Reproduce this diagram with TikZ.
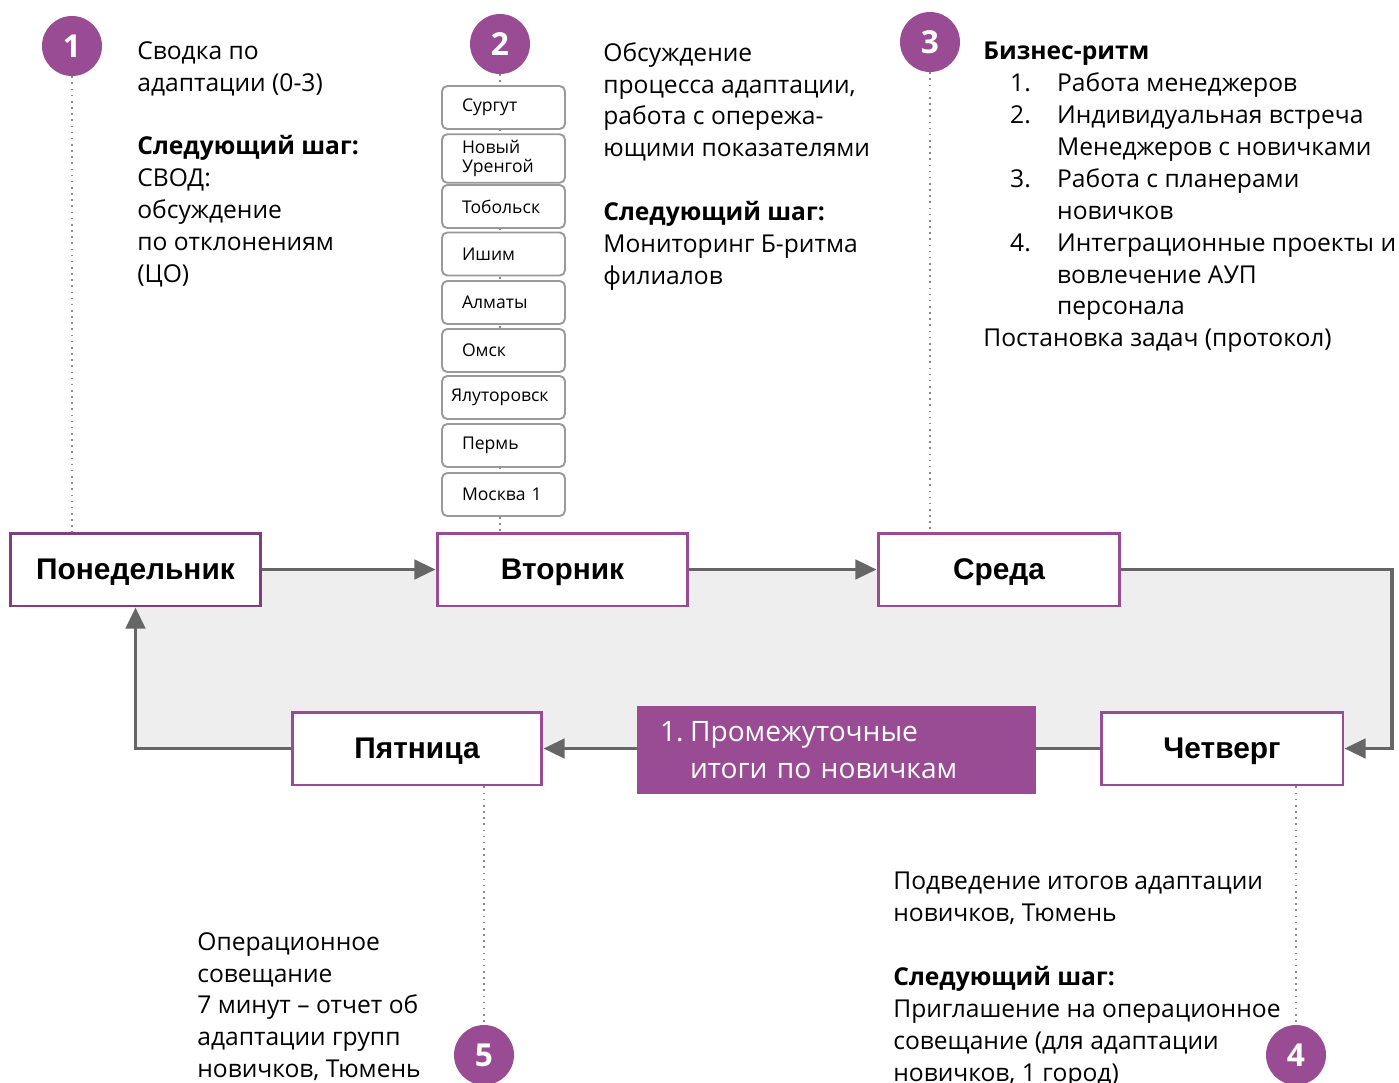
\documentclass[tikz,border=0pt]{standalone}
\usepackage{fontspec}
\setmainfont{Open Sans}
\newfontfamily\dayfont{Liberation Sans}
\usetikzlibrary{arrows.meta,positioning}

\definecolor{plum}{HTML}{994C93}
\definecolor{plumdark}{HTML}{7E3F7C}
\definecolor{flowgray}{HTML}{666666}
\definecolor{loopfill}{HTML}{EEEEEE}
\definecolor{citygray}{HTML}{9A9A9A}
\definecolor{guidegray}{HTML}{8A8A8A}

\tikzset{
  daybox/.style={draw=plum, line width=1.7pt, fill=white, minimum height=1.46cm,
    text depth=0pt, font=\dayfont\bfseries\fontsize{17}{20}\selectfont},
  citybox/.style={draw=citygray, line width=1.1pt, rounded corners=3pt, fill=white,
    minimum height=0.86cm, inner xsep=0.4cm, text width=1.66cm, align=left,
    font=\fontsize{10}{11}\selectfont},
  stepnum/.style={circle, fill=plum, minimum size=1.2cm, inner sep=0pt, text=white,
    font=\bfseries\fontsize{18}{20}\selectfont},
  note/.style={anchor=north west, inner sep=0pt, align=left,
    font=\fontsize{14}{18.14}\selectfont},
  flow/.style={draw=flowgray, line width=2pt, -{Triangle[length=12pt,width=11pt]}},
  guide/.style={draw=guidegray, line width=0.9pt, dash pattern=on 0.9pt off 2.6pt},
}

\begin{document}
\begin{tikzpicture}[x=0.02cm, y=-0.02cm]
  \useasboundingbox (0,0) rectangle (1399,1082);

  % area inside the loop
  \fill[loopfill] (135,570) rectangle (1392,748);

  % days of the week
  \node[daybox, draw=plumdark, minimum width=5.02cm] (mon) at (135.5,569.5) {Понедельник};
  \node[daybox, minimum width=5.02cm] (tue) at (562.5,569.5) {Вторник};
  \node[daybox, minimum width=4.84cm] (wed) at (999,569.5) {Среда};
  \node[daybox, minimum width=4.84cm] (thu) at (1222,748.5) {Четверг};
  \node[daybox, minimum width=5.0cm] (fri) at (417,748.5) {Пятница};

  % step numbers
  \node[stepnum] (n1) at (72,46) {1};
  \node[stepnum] (n2) at (500,44) {2};
  \node[stepnum] (n3) at (930,42) {3};
  \node[stepnum] (n4) at (1296,1055) {4};
  \node[stepnum] (n5) at (484,1055) {5};

  \draw[guide] (n1.south) -- (n1.south |- mon.north);
  \draw[guide] (n2.south) -- (n2.south |- tue.north);
  \draw[guide] (n3.south) -- (n3.south |- wed.north);
  \draw[guide] (n4.north |- thu.south) -- (n4.north);
  \draw[guide] (n5.north |- fri.south) -- (n5.north);

  % branches on tuesday
  \begin{scope}[every node/.style={citybox}]
    \node (c1) at (503.5,107.5) {Сургут};
    \node (c2) at (503.5,158.5) {Новый\\Уренгой};
    \node (c3) at (503.5,206.5) {Тобольск};
    \node (c4) at (503.5,254) {Ишим};
    \node (c5) at (503.5,302.5) {Алматы};
    \node (c6) at (503.5,350.5) {Омск};
    \node[inner xsep=0.18cm, text width=2.1cm] (c7) at (503.5,397.5) {Ялуторовск};
    \node (c8) at (503.5,445.5) {Пермь};
    \node (c9) at (503.5,494.5) {Москва 1};
  \end{scope}

  % weekly loop
  \coordinate (rturn) at (1392,660);
  \draw[flow] (mon.east) -- (tue.west);
  \draw[flow] (tue.east) -- (wed.west);
  \draw[flow] (wed.east) -| (rturn) |- (thu.east);
  \draw[flow] (thu.west) -- (fri.east);
  \draw[flow] (fri.west) -| (mon.south);

  \node[fill=plum, text=white, minimum width=7.98cm, minimum height=1.76cm,
    inner xsep=0.46cm, text width=7.06cm, align=left,
    font=\fontsize{16}{21.5}\selectfont] (mid) at (836.5,750)
    {\makebox[0.6cm][l]{1.}Промежуточные\\\hspace*{0.6cm}итоги по новичкам};

  % notes
  \node[note] (t1) at (137,41) {Сводка по\\адаптации (0-3)\\[18.14pt]
    \textbf{Следующий шаг:}\\СВОД:\\обсуждение\\по отклонениям\\(ЦО)};
  \node[note] (t2) at (603,42) {Обсуждение\\процесса адаптации,\\работа с опережа-\\ющими показателями\\[18.14pt]
    \textbf{Следующий шаг:}\\Мониторинг Б-ритма\\филиалов};
  \node[note] (t3) at (983,42) {\textbf{Бизнес-ритм}\\
    \makebox[27pt][r]{1.}\hspace{15pt}Работа менеджеров\\
    \makebox[27pt][r]{2.}\hspace{15pt}Индивидуальная встреча\\
    \hspace*{42pt}Менеджеров с новичками\\
    \makebox[27pt][r]{3.}\hspace{15pt}Работа с планерами\\
    \hspace*{42pt}новичков\\
    \makebox[27pt][r]{4.}\hspace{15pt}Интеграционные проекты и\\
    \hspace*{42pt}вовлечение АУП\\
    \hspace*{42pt}персонала\\
    Постановка задач (протокол)};
  \node[note] (t4) at (893,872) {Подведение итогов адаптации\\новичков, Тюмень\\[18.14pt]
    \textbf{Следующий шаг:}\\Приглашение на операционное\\совещание (для адаптации\\новичков, 1 город)};
  \node[note] (t5) at (197,932) {Операционное\\совещание\\7 минут – отчет об\\адаптации групп\\новичков, Тюмень};

\end{tikzpicture}
\end{document}
